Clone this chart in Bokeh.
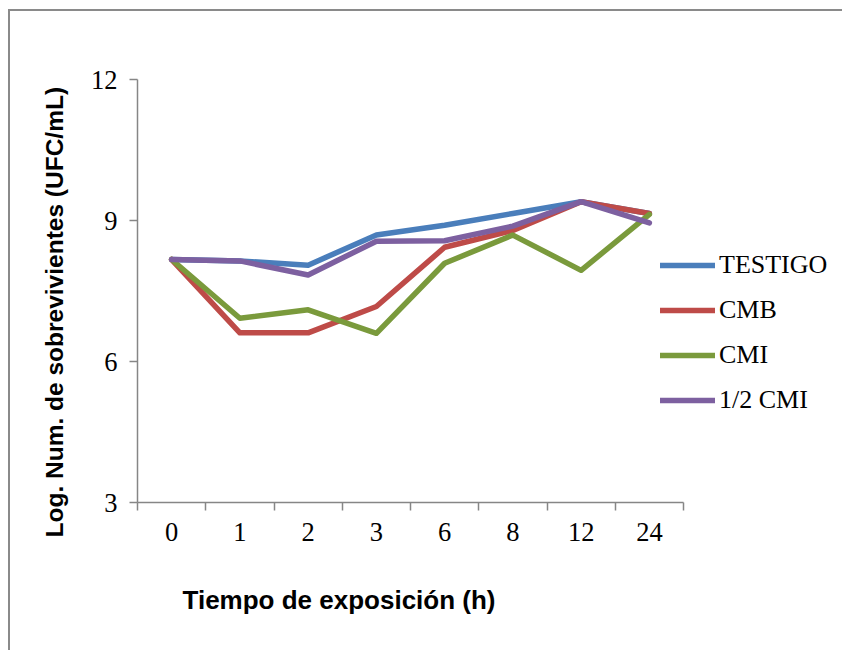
import math
from bokeh.plotting import figure
from bokeh.models import Range1d, FixedTicker, Legend, LegendItem, Title
from bokeh.embed import file_html
from bokeh.resources import INLINE

# ---- data ----
tiempos = ["0", "1", "2", "3", "6", "8", "12", "24"]
testigo = [8.17, 8.14, 8.05, 8.69, 8.90, 9.15, 9.40, 9.15]
cmb = [8.17, 6.61, 6.61, 7.17, 8.43, 8.79, 9.40, 9.15]
cmi = [8.17, 6.92, 7.10, 6.60, 8.09, 8.69, 7.94, 9.13]
medio_cmi = [8.17, 8.14, 7.84, 8.56, 8.57, 8.88, 9.40, 8.95]
series_names = ["TESTIGO", "CMB", "CMI", "1/2 CMI"]
y_ticks = [3, 6, 9, 12]
y_min, y_max = 3, 12

colors = ["#4A7EBB", "#BE4B48", "#7A9A3C", "#7D60A0"]
axis_color = "#868686"
serif = "Liberation Serif"
sans = "Liberation Sans"

n = len(tiempos)
x_idx = list(range(n))

# layout (pixels)
W, H = 834, 642
left, top, bottom = 127, 68, 150
right = 4
frame_w = W - left - right
axis_w = 546  # visible width of the category axis
x_start = -0.5
x_end = x_start + n * frame_w / axis_w

p = figure(
    width=W, height=H,
    output_backend="svg", toolbar_location=None,
    x_range=Range1d(x_start, x_end),
    y_range=Range1d(y_min, y_max),
    min_border_left=left, min_border_top=top,
    min_border_right=right, min_border_bottom=bottom,
    outline_line_color=None,
    background_fill_color="white", border_fill_color="white",
    styles={"margin-left": "8px", "margin-top": "9px", "margin-bottom": "-12px",
            "border-left": "2px solid #8a8a8a", "border-top": "2px solid #8a8a8a"},
)
p.xgrid.visible = False
p.ygrid.visible = False

renderers = []
for vals, col in zip([testigo, cmb, cmi, medio_cmi], colors):
    r = p.line(x_idx, vals, line_color=col, line_width=5.5,
               line_join="round", line_cap="round")
    renderers.append(r)

# x axis: labels at category centres, ticks at boundaries
xa = p.xaxis[0]
xa.bounds = (-0.5, n - 0.5)
xa.ticker = FixedTicker(ticks=x_idx,
                        minor_ticks=[i - 0.5 for i in range(n + 1)])
xa.major_label_overrides = {i: t for i, t in enumerate(tiempos)}
xa.major_tick_line_color = None
xa.major_tick_out = 8
xa.major_tick_in = 0
xa.minor_tick_line_color = axis_color
xa.minor_tick_out = 8
xa.minor_tick_in = 0
xa.minor_tick_line_width = 1.5
xa.axis_line_color = axis_color
xa.axis_line_width = 1.5
xa.major_label_text_font = serif
xa.major_label_text_font_size = "26.5px"
xa.major_label_text_color = "black"
xa.major_label_standoff = 12

ya = p.yaxis[0]
ya.ticker = FixedTicker(ticks=y_ticks)
ya.major_tick_line_color = axis_color
ya.major_tick_line_width = 1.5
ya.major_tick_out = 8
ya.major_tick_in = 0
ya.minor_tick_line_color = None
ya.axis_line_color = axis_color
ya.axis_line_width = 1.5
ya.major_label_text_font = serif
ya.major_label_text_font_size = "26.5px"
ya.major_label_text_color = "black"
ya.major_label_standoff = 12

# axis titles
p.add_layout(Title(text="Log. Num. de sobrevivientes (UFC/mL)", align="left", offset=-35,
                   text_font=sans, text_font_style="bold", text_font_size="24.5px",
                   text_color="black", standoff=39), "left")
p.add_layout(Title(text="Tiempo de exposición  (h)", align="left", offset=45,
                   text_font=sans, text_font_style="bold", text_font_size="26px",
                   text_color="black", standoff=78), "below")

legend = Legend(
    items=[LegendItem(label=nm, renderers=[r]) for nm, r in zip(series_names, renderers)],
    location=(523, 87), orientation="vertical",
    glyph_width=55, glyph_height=30, label_height=30, spacing=15,
    padding=0, margin=0, label_standoff=4,
    border_line_color=None, background_fill_alpha=0,
    label_text_font=serif, label_text_font_size="26px", label_text_color="black",
)
p.add_layout(legend)

open("out.html", "w").write(file_html(p, INLINE))
